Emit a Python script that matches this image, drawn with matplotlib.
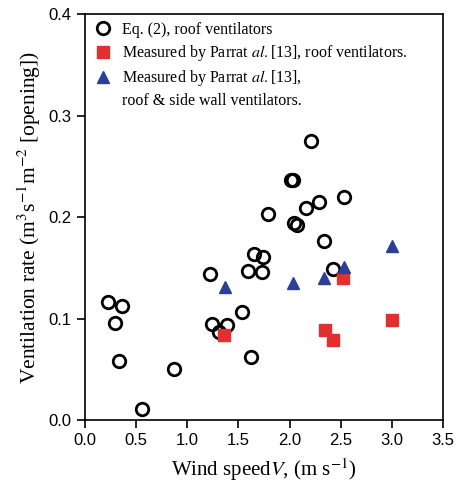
#!/usr/bin/env python3
"""Ventilation rate vs wind speed scatter."""

import matplotlib
matplotlib.use("Agg")
import matplotlib.pyplot as plt

# Eq. (2), roof ventilators
eq_v = [0.22, 0.365, 0.29, 0.33, 0.87, 0.56, 1.24, 1.385, 1.31, 1.54, 1.62,
        1.22, 1.59, 1.73, 1.655, 1.74, 1.79, 2.03, 2.01, 2.04, 2.07, 2.16,
        2.29, 2.21, 2.535, 2.34, 2.43]
eq_q = [0.116, 0.112, 0.096, 0.058, 0.050, 0.011, 0.095, 0.094, 0.087, 0.106, 0.062,
        0.144, 0.147, 0.146, 0.164, 0.161, 0.203, 0.236, 0.236, 0.194, 0.192, 0.209,
        0.215, 0.275, 0.220, 0.176, 0.149]

# Measured, roof ventilators
roof_v = [1.36, 2.35, 2.43, 3.00, 2.52]
roof_q = [0.084, 0.089, 0.079, 0.099, 0.140]

# Measured, roof & side wall ventilators
side_v = [1.365, 2.03, 2.34, 2.53, 3.00]
side_q = [0.131, 0.135, 0.140, 0.151, 0.171]

xticks = [0.0, 0.5, 1.0, 1.5, 2.0, 2.5, 3.0, 3.5]
yticks = [0.0, 0.1, 0.2, 0.3, 0.4]

plt.rcParams["mathtext.fontset"] = "stix"
serif = "Liberation Serif"

fig = plt.figure(figsize=(4.58, 4.95), dpi=100)
ax = fig.add_axes([0.1856, 0.1515, 0.7814, 0.8202])

ax.plot(eq_v, eq_q, "o", mfc="none", mec="black", mew=2.0, ms=9,
        label="Eq. (2), roof ventilators")
ax.plot(roof_v, roof_q, "s", color="#e03030", ms=8,
        label=r"Measured by Parrat $\it{al.}$[13], roof ventilators.")
ax.plot(side_v, side_q, "^", color="#2b3f9a", ms=9,
        label=r"Measured by Parrat $\it{al.}$[13],")
# second line of the third legend entry, no marker
ax.plot([], [], " ", label="roof & side wall ventilators.")

ax.set_xlim(0, 3.5)
ax.set_ylim(0, 0.4)
ax.set_xticks(xticks)
ax.set_yticks(yticks)
ax.set_xticklabels([f"{t:.1f}" for t in xticks], family="Liberation Sans", fontsize=12)
ax.set_yticklabels([f"{t:.1f}" for t in yticks], family="Liberation Sans", fontsize=12)
ax.tick_params(direction="out", length=6, width=1.2, top=False, right=False)
for s in ax.spines.values():
    s.set_linewidth(1.2)

ax.set_xlabel(r"Wind speed$V$, (m s$^{-1}$)", family=serif, fontsize=15, labelpad=6)
ax.set_ylabel(r"Ventilation rate (m$^3$s$^{-1}$m$^{-2}$ [opening])",
              family=serif, fontsize=15.5)

ax.legend(loc="upper left", frameon=False, prop={"family": serif, "size": 11.5},
          handletextpad=0.6, borderaxespad=0.1, labelspacing=0.32,
          handlelength=1.2)

fig.savefig("out.png", dpi=100)
